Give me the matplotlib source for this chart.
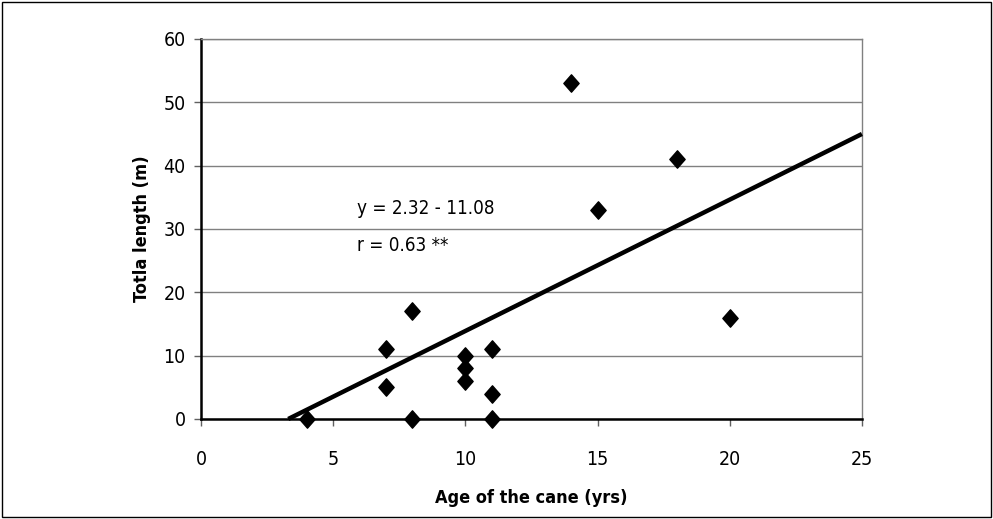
import matplotlib
matplotlib.use("Agg")
import matplotlib.pyplot as plt
from matplotlib.path import Path
from matplotlib.patches import Rectangle

plt.rcParams['font.family'] = ['DejaVu Sans']
plt.rcParams['font.stretch'] = 'condensed'

# Data
age = [4, 7, 7, 8, 8, 10, 10, 10, 11, 11, 11, 14, 15, 18, 20]
length = [0, 11, 5, 17, 0, 10, 8, 6, 11, 4, 0, 53, 33, 41, 16]
fit_x = [3.3, 25]
fit_y = [0, 45]
x_ticks = [0, 5, 10, 15, 20, 25]
y_ticks = [0, 10, 20, 30, 40, 50, 60]
eq_text = "y = 2.32 - 11.08"
r_text = "r = 0.63 **"

fig = plt.figure(figsize=(9.93, 5.19), dpi=100)
fig.patches.append(Rectangle((0.002, 0.003), 0.996, 0.994, transform=fig.transFigure,
                             fill=False, edgecolor='black', linewidth=1.0))
ax = fig.add_axes([0.2024, 0.1927, 0.6656, 0.7322])

diamond = Path([(0, 1), (0.88, 0), (0, -1), (-0.88, 0), (0, 1)],
               [Path.MOVETO, Path.LINETO, Path.LINETO, Path.LINETO, Path.CLOSEPOLY])

ax.plot(fit_x, fit_y, color='black', linewidth=3.2, solid_capstyle='butt', zorder=3, clip_on=False)
ax.plot(age, length, linestyle='none', marker=diamond, markersize=12.5,
        color='black', zorder=4, clip_on=False)

ax.set_xlim(0, 25)
ax.set_ylim(0, 60)
ax.set_xticks(x_ticks)
ax.set_yticks(y_ticks)
ax.yaxis.grid(True, color='#808080', linewidth=1.0)
ax.set_axisbelow(True)

for s in ['top', 'right']:
    ax.spines[s].set_color('#808080')
    ax.spines[s].set_linewidth(1.0)
for s in ['left', 'bottom']:
    ax.spines[s].set_color('black')
    ax.spines[s].set_linewidth(1.8)

ax.tick_params(axis='both', direction='out', length=5, width=1, color='#606060',
               labelsize=14)
ax.tick_params(axis='x', pad=17)
ax.tick_params(axis='y', pad=6)

ax.set_xlabel("Age of the cane (yrs)", fontsize=13, fontweight='bold', labelpad=15)
ax.set_ylabel("Totla length (m)", fontsize=13, fontweight='bold', labelpad=9)

ax.text(5.9, 33.2, eq_text, fontsize=13.5, ha='left', va='center')
ax.text(5.9, 27.4, r_text, fontsize=13.5, ha='left', va='center')

fig.savefig("out.png", dpi=100)
